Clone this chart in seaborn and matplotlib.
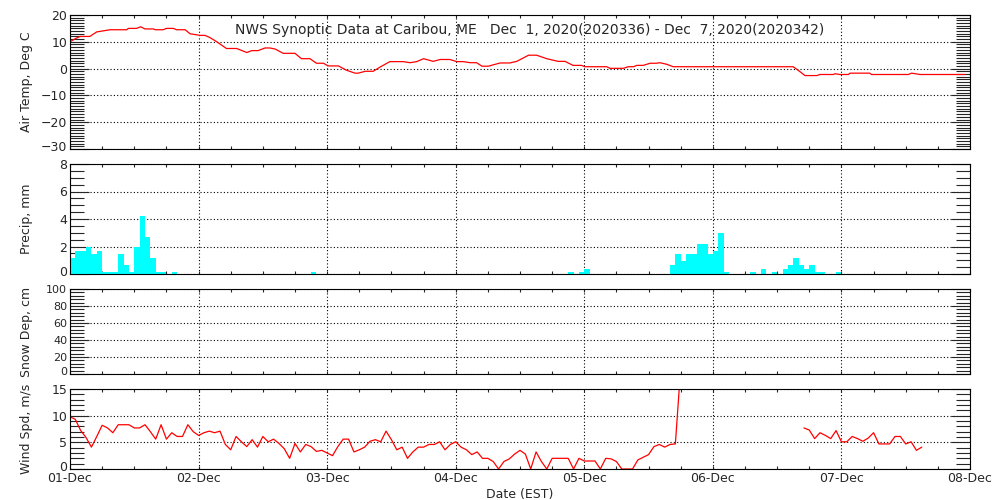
import numpy as np
import pandas as pd
import matplotlib
matplotlib.use("Agg")
import matplotlib.pyplot as plt
from matplotlib.ticker import MultipleLocator
from matplotlib.transforms import ScaledTranslation
import seaborn as sns

# NWS synoptic data, Caribou ME, Dec 1-7 2020 (x = hours since 01-Dec 00:00 EST)

title = "NWS Synoptic Data at Caribou, ME   Dec  1, 2020(2020336) - Dec  7, 2020(2020342)"
day_labels = ["01-Dec", "02-Dec", "03-Dec", "04-Dec", "05-Dec", "06-Dec", "07-Dec", "08-Dec"]

temp_hours = [0, 1.2, 1.9, 3.7, 5, 7.5, 10.6, 10.9, 12.4, 13.2, 14, 15.6, 15.9, 17.4, 18, 19.3,
              19.9, 21.5, 22.4, 24.3, 25.2, 26.1, 27.4, 29.2, 31.1, 33, 33.9, 35.1, 36.4, 37.3,
              38.3, 39.8, 42, 43.2, 44.8, 46, 47.3, 48.2, 50.1, 51.6, 53.2, 53.8, 55.1, 56.6,
              57.9, 59.7, 62.2, 63.5, 64.7, 66, 67.8, 69.1, 70.9, 72.2, 73.4, 74.7, 75.9, 76.9,
              78.1, 79, 80.3, 82.1, 83.4, 85.6, 87.1, 89, 91.1, 92.4, 93.9, 95.5, 96.1, 100.2,
              100.8, 103.3, 104.2, 105.2, 105.8, 107, 108.3, 109.5, 110.1, 111.4, 112.6, 135,
              136.3, 137.2, 139.4, 140, 142.5, 142.8, 143.7, 145.3, 145.6, 149.3, 149.6, 156.5,
              157.1, 158.7, 167]
temp_c = [10.0, 11.4, 12, 12, 13.7, 14.5, 14.5, 15, 15, 15.6, 14.8, 14.8, 14.5, 14.5, 15, 15,
          14.5, 14.5, 13, 12.4, 12.4, 11.6, 10, 7.5, 7.5, 6, 6.7, 6.7, 7.7, 7.7,
          7.3, 5.7, 5.7, 3.7, 3.7, 2, 2, 1, 1, -0.6, -1.7, -1.7, -1, -1,
          0.6, 2.6, 2.6, 2.2, 2.6, 3.7, 2.7, 3.4, 3.4, 2.6, 2.6, 2.2, 2.2, 0.9,
          0.9, 1.4, 2.1, 2.1, 2.7, 5, 5, 3.7, 2.7, 2.7, 1.2, 1.2, 0.7, 0.7,
          0.1, 0.1, 0.7, 0.7, 1.2, 1.2, 2, 2, 2.2, 1.6, 0.7, 0.7,
          -1.2, -2.6, -2.6, -2.2, -2.2, -1.9, -2.2, -2.2, -1.7, -1.7, -2.2, -2.2,
          -1.7, -2.2, -2.2]

precip_hours = [0, 1, 2, 3, 4, 5, 6, 7, 8, 9, 10, 11, 12, 13, 14, 15, 16, 17, 19, 45,
                93, 95, 96, 112, 113, 114, 115, 116, 117, 118, 119, 120, 121, 122,
                127, 129, 131, 133, 134, 135, 136, 137, 138, 139, 140, 143]
precip_mm = [1.15, 1.7, 1.7, 2.0, 1.45, 1.7, 0.15, 0.15, 0.15, 1.45, 0.65, 0.15, 2.0, 4.25,
             2.7, 1.15, 0.15, 0.15, 0.15, 0.15,
             0.15, 0.15, 0.4, 0.65, 1.45, 0.95, 1.45, 1.45, 2.2, 2.2, 1.45, 1.7, 3.0, 0.15,
             0.15, 0.4, 0.15, 0.4, 0.65, 1.15, 0.65, 0.4, 0.65, 0.15, 0.15, 0.15]

# hourly wind speed, NaN = missing
wind_ms = ([9.8, 9.3, 7.2, 5.9, 4.1, 6.1, 8.2, 7.7, 6.8, 8.3,
            8.3, 8.3, 7.7, 7.7, 8.3, 7.0, 5.6, 8.3, 5.6, 6.8,
            6.1, 6.1, 8.3, 7.0, 6.3, 6.8, 7.1, 6.8, 7.1, 4.6,
            3.6, 6.1, 5.1, 4.2, 5.5, 4.1, 6.1, 5.1, 5.6, 4.8,
            3.8, 2.0, 4.8, 3.2, 4.6, 4.2, 3.3, 3.5, 3.0, 2.5,
            4.2, 5.6, 5.6, 3.2, 3.6, 4.1, 5.2, 5.5, 5.1, 7.1,
            5.5, 3.6, 4.1, 2.0, 3.2, 4.1, 4.1, 4.6, 4.6, 5.1,
            3.6, 4.6, 5.1, 4.1, 3.6, 2.7, 3.2, 2.0, 2.0, 1.4,
            0.0, 1.4, 1.9, 2.8, 3.5, 2.8, 0.0, 3.2, 1.4, 0.0,
            2.0, 2.0, 2.0, 2.0, 0.0, 2.0, 1.5, 1.5, 1.5, 0.0,
            2.0, 1.9, 1.4, 0.0, 0.0, 0.0, 1.7, 2.2, 2.7, 4.2,
            4.6, 4.1, 4.6, 4.7, 19.0]
           + [np.nan] * 22
           + [7.7, 7.3, 5.7, 6.8, 6.3, 5.7, 7.2, 5.1, 5.1, 6.1,
              5.7, 5.2, 5.8, 6.8, 4.7, 4.7, 4.7, 6.1, 6.1, 4.7,
              5.1, 3.5, 4.1]
           + [np.nan] * 8)

sns.set_style("white")
plt.rcParams["font.family"] = ["DejaVu Sans"]
plt.rcParams["axes.linewidth"] = 0.8

fig = plt.figure(figsize=(10, 5), dpi=100)

panels = [
    # rect, ylim, major, minor, ylabel, label size
    ([0.07, 0.702, 0.9, 0.268], (-30, 20), 10, 1, "Air Temp, Deg C", 9),
    ([0.07, 0.452, 0.9, 0.220], (0, 8), 2, 0.5, "Precip, mm", 9),
    ([0.07, 0.252, 0.9, 0.170], (0, 100), 20, 4, "Snow Dep, cm", 8),
    ([0.07, 0.062, 0.9, 0.160], (0, 15), 5, 1, "Wind Spd, m/s", 9),
]
axes = []
for rect, ylim, major, minor, label, lsize in panels:
    ax = fig.add_axes(rect)
    axes.append(ax)

# temperature
sns.lineplot(x=temp_hours, y=temp_c, estimator=None, color="red", lw=0.9, ax=axes[0])

# precipitation, hourly bars
pdf = pd.DataFrame({"hour": precip_hours, "mm": precip_mm})
sns.histplot(data=pdf, x="hour", weights="mm", binwidth=1, binrange=(0, 168), color="#00FFFF",
             alpha=1, linewidth=0, ax=axes[1])

# wind, broken where data is missing
wdf = pd.DataFrame({"hour": np.arange(len(wind_ms)), "wind": wind_ms})
wdf["seg"] = wdf["wind"].isna().cumsum()
wdf = wdf.dropna()
sns.lineplot(data=wdf, x="hour", y="wind", units="seg", estimator=None, color="red", lw=0.9,
             ax=axes[3])

dots = (0, (1, 2))
for ax, (rect, ylim, major, minor, label, lsize) in zip(axes, panels):
    ax.set_xlim(0, 168)
    ax.set_ylim(*ylim)
    ax.xaxis.set_major_locator(MultipleLocator(24))
    ax.xaxis.set_minor_locator(MultipleLocator(6))
    ax.set_yticks(np.arange(ylim[0], ylim[1] + major / 2, major))
    ax.yaxis.set_minor_locator(MultipleLocator(minor))
    ax.grid(True, which="major", color="black", linestyle=dots, linewidth=0.8)
    ax.tick_params(axis="y", which="major", direction="in", length=13.5, width=0.8,
                   left=True, right=True, labelsize=lsize, pad=2)
    ax.tick_params(axis="y", which="minor", direction="in", length=10, width=0.8,
                   left=True, right=True)
    ax.tick_params(axis="x", which="both", direction="in", length=2.5, width=0.8,
                   top=True, bottom=True, labelbottom=False)
    for s in ax.spines.values():
        s.set_color("black")
        s.set_linewidth(0.8)
    ax.set_xlabel("")
    ax.set_ylabel(label, fontsize=9)
    ax.yaxis.set_label_coords(-0.041, 0.5)

bottom = axes[3]
bottom.set_xticks(np.arange(0, 169, 24))
bottom.set_xticklabels(day_labels)
bottom.tick_params(axis="x", labelbottom=True, labelsize=9, pad=2)
bottom.set_xlabel("Date (EST)", fontsize=9, labelpad=2)

# lowest y label of each panel sits a little above its tick, as in the original
fig.canvas.draw()
lift = ScaledTranslation(0, 2.3 / 72, fig.dpi_scale_trans)
for ax in axes:
    first = ax.yaxis.get_major_ticks()[0]
    first.label1.set_transform(first.label1.get_transform() + lift)

fig.text(0.53, 0.94, title, ha="center", va="center", fontsize=10)

fig.savefig("out.png", dpi=100)
